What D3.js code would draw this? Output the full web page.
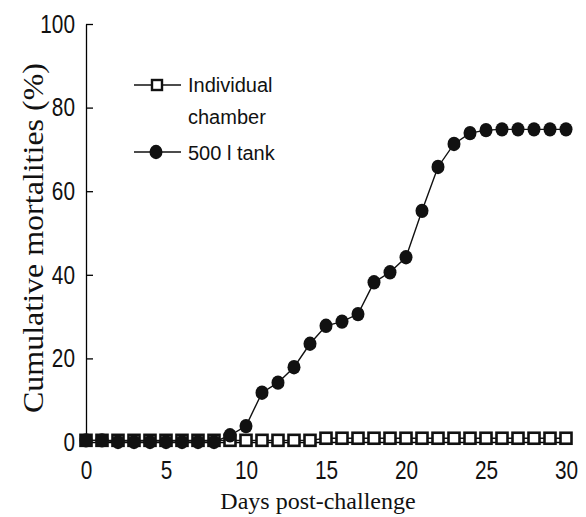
<!DOCTYPE html>
<html>
<head>
<meta charset="utf-8">
<script src="https://cdn.jsdelivr.net/npm/d3@7/dist/d3.min.js"></script>
<style>
  html, body { margin: 0; padding: 0; background: #fff; }
  svg { display: block; }
</style>
</head>
<body>
<svg id="chart" width="586" height="517"></svg>
<script>
// ---- data ----
const days = d3.range(0, 31);
const chamberValues = [0.4,0.4,0.4,0.4,0.4,0.4,0.4,0.4,0.4,0.4,0.4,0.4,0.4,0.4,0.4,
  0.9,0.9,0.9,0.9,0.9,0.9,0.9,0.9,0.9,0.9,0.9,0.9,0.9,0.9,0.9,0.9];
const tankValues = [0.4,0.4,0,0,0,0,0,0,0,1.6,3.8,11.8,14.2,17.9,23.5,27.8,28.8,30.6,38.2,40.6,44.2,
  55.3,65.8,71.3,73.9,74.6,74.8,74.8,74.8,74.8,74.8];
const xTicks = [0,5,10,15,20,25,30];
const yTicks = [0,20,40,60,80,100];
const seriesNames = ["Individual", "chamber", "500 l tank"];
const xTitle = "Days post-challenge";
const yTitle = "Cumulative mortalities (%)";

// ---- layout ----
const svg = d3.select("#chart");
const x = d3.scaleLinear().domain([0, 30]).range([86, 566]);
const y = d3.scaleLinear().domain([0, 100]).range([442, 24]);
const tickFont = "'Liberation Sans', 'Arial', sans-serif";
const squeeze = 0.8;

// x axis (zero line, no ticks)
const gx = svg.append("g").attr("transform", `translate(0,${y(0)})`)
  .call(d3.axisBottom(x).tickValues(xTicks).tickSize(0).tickPadding(19).tickFormat(d3.format("d")));
gx.select(".domain").attr("stroke", "#000").attr("stroke-width", 1.3);
gx.selectAll("text").attr("font-family", tickFont).attr("font-size", 26).attr("fill", "#111")
  .attr("transform", `scale(${squeeze},1)`);

// y axis (ticks inward)
const gy = svg.append("g").attr("transform", `translate(${x(0)},0)`)
  .call(d3.axisLeft(y).tickValues(yTicks).tickSizeInner(-7).tickSizeOuter(0).tickPadding(11).tickFormat(d3.format("d")));
gy.select(".domain").attr("stroke", "#000").attr("stroke-width", 1.3);
gy.selectAll(".tick line").attr("stroke", "#000").attr("stroke-width", 1.3);
gy.selectAll("text").attr("font-family", tickFont).attr("font-size", 26).attr("fill", "#111")
  .attr("x", 0).attr("transform", `translate(-11,0) scale(${squeeze},1)`);

// titles
svg.append("text").attr("x", 318).attr("y", 509).attr("text-anchor", "middle")
  .attr("font-family", "'Liberation Serif', 'Times New Roman', serif").attr("font-size", 24)
  .attr("fill", "#111").text(xTitle);
svg.append("text").attr("transform", `translate(43,238) rotate(-90)`)
  .attr("text-anchor", "middle")
  .attr("font-family", "'Liberation Serif', 'Times New Roman', serif").attr("font-size", 29)
  .attr("textLength", 350).attr("lengthAdjust", "spacingAndGlyphs")
  .attr("fill", "#111").text(yTitle);

// series
const line = d3.line().x((d, i) => x(days[i])).y(d => y(d));
svg.append("path").datum(chamberValues).attr("d", line)
  .attr("fill", "none").attr("stroke", "#111").attr("stroke-width", 1.4);
svg.append("path").datum(tankValues).attr("d", line)
  .attr("fill", "none").attr("stroke", "#111").attr("stroke-width", 1.4);

const sq = 11;
svg.append("g").selectAll("rect").data(chamberValues).join("rect")
  .attr("x", (d, i) => x(days[i]) - sq/2).attr("y", d => y(d) - sq/2)
  .attr("width", sq).attr("height", sq)
  .attr("fill", "#fff").attr("stroke", "#111").attr("stroke-width", 2.6);

svg.append("g").selectAll("ellipse").data(tankValues).join("ellipse")
  .attr("cx", (d, i) => x(days[i])).attr("cy", d => y(d))
  .attr("rx", 6.5).attr("ry", 7.2).attr("fill", "#111");

// legend
const legFont = "'Liberation Sans', 'Arial', sans-serif";
const lg = svg.append("g");
lg.append("line").attr("x1", 134).attr("x2", 181).attr("y1", 85).attr("y2", 85)
  .attr("stroke", "#111").attr("stroke-width", 1.4);
lg.append("rect").attr("x", 157 - 5).attr("y", 85 - 5).attr("width", 10).attr("height", 10)
  .attr("fill", "#fff").attr("stroke", "#111").attr("stroke-width", 2.4);
lg.append("text").attr("x", 188).attr("y", 92).attr("font-family", legFont)
  .attr("font-size", 20).attr("fill", "#111").text(seriesNames[0]);
lg.append("text").attr("x", 188).attr("y", 124).attr("font-family", legFont)
  .attr("font-size", 20).attr("fill", "#111").text(seriesNames[1]);
lg.append("line").attr("x1", 134).attr("x2", 181).attr("y1", 152).attr("y2", 152)
  .attr("stroke", "#111").attr("stroke-width", 1.4);
lg.append("ellipse").attr("cx", 156).attr("cy", 152).attr("rx", 6.5).attr("ry", 7.2).attr("fill", "#111");
lg.append("text").attr("x", 188).attr("y", 160).attr("font-family", legFont)
  .attr("font-size", 20).attr("fill", "#111").text(seriesNames[2]);
</script>
</body>
</html>
